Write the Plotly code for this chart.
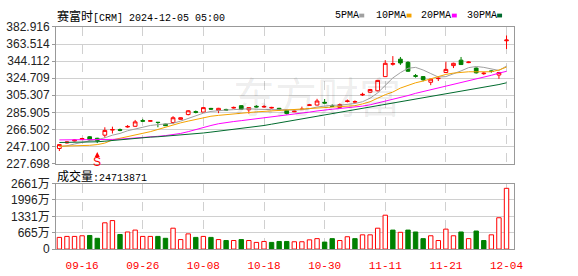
import plotly.graph_objects as go

# ---------------- data ----------------
dates = ["09-11", "09-12", "09-13", "09-16", "09-17", "09-18", "09-19", "09-20", "09-23", "09-24",
         "09-25", "09-26", "09-27", "09-30", "10-01", "10-02", "10-03", "10-04", "10-07", "10-08",
         "10-09", "10-10", "10-11", "10-14", "10-15", "10-16", "10-17", "10-18", "10-21", "10-22",
         "10-23", "10-24", "10-25", "10-28", "10-29", "10-30", "10-31", "11-01", "11-04", "11-05",
         "11-06", "11-07", "11-08", "11-11", "11-12", "11-13", "11-14", "11-15", "11-18", "11-19",
         "11-20", "11-21", "11-22", "11-25", "11-26", "11-27", "11-29", "12-02", "12-03", "12-04"]

open_ = [244.9, 251.2, 253.4, 255.0, 258.2, 256.5, 260.0, 265.8, 266.3, 269.3,
         270.1, 276.6, 275.8, 274.7, 272.6, 274.4, 278.0, 283.4, 286.8, 286.2,
         290.4, 288.0, 289.2, 290.8, 293.5, 288.8, 292.8, 292.0, 290.8, 290.5,
         288.1, 286.6, 289.0, 293.8, 294.2, 297.3, 293.5, 291.6, 298.2, 297.5,
         305.6, 308.8, 310.4, 326.5, 340.5, 346.3, 342.7, 327.6, 326.5, 320.1,
         324.2, 331.2, 339.0, 345.2, 342.4, 336.2, 329.8, 333.0, 328.3, 367.2]
high = [249.5, 252.8, 255.0, 257.0, 259.0, 257.0, 269.0, 269.7, 267.5, 271.5,
        277.3, 278.5, 277.0, 275.0, 273.0, 281.6, 280.2, 288.5, 288.0, 292.0,
        291.0, 291.0, 290.0, 292.5, 294.0, 291.6, 294.0, 294.0, 292.2, 291.0,
        288.5, 288.0, 292.4, 295.5, 301.3, 301.0, 295.0, 296.0, 300.5, 299.5,
        308.2, 312.5, 322.8, 345.2, 349.8, 348.8, 344.0, 329.5, 327.0, 324.0,
        326.0, 343.4, 342.3, 348.8, 343.8, 336.8, 331.5, 333.5, 331.8, 373.2]
low = [242.0, 250.5, 253.0, 254.5, 254.0, 251.0, 257.1, 261.9, 264.5, 268.5,
       269.5, 275.0, 275.5, 269.0, 270.5, 272.6, 277.8, 282.5, 284.8, 285.8,
       288.8, 285.0, 287.8, 290.2, 289.0, 284.5, 291.5, 291.2, 290.2, 288.3,
       283.5, 286.2, 288.8, 293.2, 293.8, 296.0, 292.2, 291.0, 297.2, 296.8,
       304.5, 308.2, 309.8, 326.0, 339.0, 339.8, 331.9, 325.3, 321.2, 316.8,
       321.5, 330.5, 336.2, 339.8, 341.8, 330.0, 328.5, 331.0, 324.0, 357.8]
close = [249.3, 252.2, 254.4, 256.2, 254.6, 253.6, 265.4, 266.4, 265.5, 269.9,
         275.1, 275.9, 276.4, 274.4, 270.8, 279.8, 279.8, 287.7, 285.9, 291.3,
         289.6, 290.5, 288.5, 291.5, 289.5, 291.3, 292.1, 292.6, 291.5, 288.8,
         284.5, 287.3, 289.5, 294.4, 298.8, 296.5, 292.8, 294.8, 298.8, 298.1,
         306.3, 311.9, 322.2, 341.6, 341.3, 342.0, 332.6, 326.9, 322.9, 323.6,
         324.6, 334.7, 341.6, 340.2, 343.0, 330.8, 330.4, 332.4, 331.2, 368.0]

ma5 = [247.0, 248.0, 250.0, 252.0, 253.5, 255.0, 257.0, 260.0, 262.0, 265.0,
       267.0, 269.0, 271.0, 272.0, 273.0, 273.5, 276.0, 279.0, 282.0, 285.0,
       287.0, 288.0, 288.5, 289.0, 289.5, 290.0, 289.5, 289.0, 289.0, 289.0,
       288.5, 288.5, 289.0, 290.0, 292.0, 293.0, 294.0, 294.0, 295.0, 296.0,
       298.0, 302.0, 308.0, 316.0, 325.0, 331.0, 336.0, 337.0, 334.0, 330.0,
       326.0, 326.5, 329.5, 333.0, 336.7, 338.0, 337.0, 335.0, 333.5, 338.5]
ma10 = [247.4, 247.5, 247.6, 248.0, 248.5, 249.3, 251.0, 254.6, 256.5, 258.0,
        260.0, 261.5, 264.0, 266.5, 269.0, 271.9, 274.0, 276.0, 278.0, 280.0,
        281.5, 282.5, 283.4, 284.5, 285.5, 286.0, 286.5, 287.0, 287.5, 288.0,
        288.5, 289.0, 289.5, 290.5, 291.0, 291.6, 292.0, 292.0, 292.4, 293.5,
        295.5, 298.0, 302.0, 306.0, 309.0, 313.5, 316.5, 319.5, 321.5, 324.0,
        327.0, 329.0, 330.5, 331.5, 332.0, 332.0, 332.0, 332.0, 334.0, 337.3]
ma20 = [254.6, 254.6, 254.6, 254.6, 254.7, 254.8, 255.0, 255.2, 255.5, 256.0,
        256.5, 257.0, 258.0, 258.7, 259.5, 260.5, 262.0, 264.0, 266.5, 268.5,
        271.0, 273.0, 274.5, 275.5, 276.5, 277.5, 278.5, 279.8, 281.0, 282.0,
        283.0, 284.0, 285.0, 286.2, 287.5, 288.8, 289.5, 290.3, 291.0, 292.0,
        293.0, 294.5, 296.5, 298.5, 300.2, 302.5, 305.0, 307.5, 309.5, 311.5,
        313.5, 315.8, 317.5, 319.5, 321.5, 324.0, 326.0, 328.0, 330.5, 332.5]
ma30 = [251.7, 251.8, 251.9, 252.0, 252.1, 252.5, 253.2, 254.0, 255.0, 256.2,
        256.8, 257.3, 257.8, 258.2, 258.8, 259.5, 260.2, 261.0, 261.8, 262.5,
        263.5, 264.5, 265.5, 266.5, 267.5, 268.5, 269.8, 271.0, 272.5, 274.0,
        275.5, 276.8, 278.0, 279.5, 281.0, 282.5, 284.0, 285.5, 287.0, 288.5,
        290.0, 291.5, 293.0, 294.5, 296.0, 297.5, 299.0, 300.5, 302.0, 303.5,
        305.0, 306.5, 308.0, 309.5, 311.0, 312.5, 314.0, 315.5, 317.5, 319.5]

# volume in 万 (10k shares)
volume = [474, 514, 514, 540, 552, 437, 1067, 1157, 591, 694,
          771, 514, 514, 514, 437, 848, 386, 617, 474, 514,
          474, 386, 347, 347, 386, 347, 270, 309, 270, 309,
          309, 297, 297, 374, 424, 283, 424, 347, 501, 424,
          578, 578, 848, 1376, 771, 681, 771, 694, 424, 540,
          347, 810, 540, 694, 424, 733, 347, 578, 1273, 2468]
vol_up = [1, 1, 1, 1, 0, 0, 1, 1, 0, 1,
          1, 1, 1, 0, 0, 1, 1, 1, 0, 1,
          0, 1, 0, 1, 0, 1, 1, 1, 0, 0,
          0, 1, 1, 1, 1, 0, 0, 1, 1, 0,
          1, 1, 1, 1, 0, 1, 0, 0, 0, 1,
          1, 1, 1, 0, 1, 0, 0, 1, 1, 1]

price_ticks = [227.698, 247.100, 266.502, 285.905, 305.307, 324.709, 344.112, 363.514, 382.916]
vol_ticks = [0, 665, 1331, 1996, 2661]
vol_tick_text = ["0", "665万", "1331万", "1996万", "2661万"]
date_ticks = ["09-16", "09-26", "10-08", "10-18", "10-30", "11-11", "11-21", "12-04"]

title_name = "赛富时"
title_rest = "[CRM] 2024-12-05 05:00"
vol_label = "成交量"
vol_total = "24713871"
ma_names = ["5PMA", "10PMA", "20PMA", "30PMA"]
signal_idx = 5
signal_text = "S"

# ---------------- style ----------------
W, H = 578, 276
RED = "#ff0000"
GREEN = "#008000"
MA_COLORS = ["#a0a0a0", "#f5a300", "#ff00ff", "#006b2e"]
GRID = "#d0d0d0"
BORDER = "#999999"
CJK = "Noto Sans CJK SC"
MONO = "Liberation Mono"


def px(x):
    return x / W


def py(y):
    return 1 - y / H


XL, XR = 57, 522
fig = go.Figure()

for name, vals, col in zip(ma_names, [ma5, ma10, ma20, ma30], MA_COLORS):
    fig.add_trace(go.Scatter(x=dates, y=vals, mode="lines", name=name,
                             line=dict(color=col, width=1), hoverinfo="skip",
                             xaxis="x", yaxis="y"))

fig.add_trace(go.Candlestick(
    x=dates, open=open_, high=high, low=low, close=close,
    increasing=dict(line=dict(color=RED, width=1), fillcolor="white"),
    decreasing=dict(line=dict(color=GREEN, width=1), fillcolor=GREEN),
    whiskerwidth=0, xaxis="x", yaxis="y", name="K"))

fig.add_trace(go.Bar(
    x=dates, y=volume, width=0.58, xaxis="x2", yaxis="y2",
    marker=dict(color=["white" if u else GREEN for u in vol_up],
                line=dict(color=[RED if u else GREEN for u in vol_up], width=1))))

xcommon = dict(domain=[px(XL), px(XR)], type="category", range=[-0.43, 59.97],
               tickvals=date_ticks, showgrid=True, gridcolor=GRID, griddash="dash",
               gridwidth=1, showline=True, linecolor=BORDER, linewidth=1, mirror=True,
               ticks="", zeroline=False, fixedrange=True)
ycommon = dict(showgrid=True, gridcolor=GRID, gridwidth=1, showline=True,
               linecolor=BORDER, linewidth=1, mirror=True, ticks="outside",
               ticklen=3, tickcolor=BORDER, zeroline=False,
               tickfont=dict(family="Liberation Sans, " + CJK, size=12, color="#222222"))

fig.update_layout(
    width=W, height=H, margin=dict(l=0, r=0, t=0, b=0),
    paper_bgcolor="white", plot_bgcolor="white", showlegend=False,
    xaxis=dict(anchor="y", showticklabels=False, rangeslider=dict(visible=False), **xcommon),
    yaxis=dict(anchor="x", domain=[py(165), py(21)], range=[price_ticks[0], price_ticks[-1]],
               tickvals=price_ticks, ticktext=[f"{v:.3f}" for v in price_ticks], **ycommon),
    xaxis2=dict(anchor="y2", showticklabels=True, ticktext=date_ticks, ticklabelstandoff=6,
                tickfont=dict(family=MONO, size=11, color=RED), **xcommon),
    yaxis2=dict(anchor="x2", domain=[py(255), py(186)], range=[0, vol_ticks[-1]],
                tickvals=vol_ticks, ticktext=vol_tick_text, **ycommon),
)

ann = []
# watermark
ann.append(dict(x=px(322), y=py(92), xref="paper", yref="paper", xanchor="center",
                yanchor="middle", showarrow=False,
                text="东方财富", font=dict(family=CJK, size=42, color="rgba(0,0,0,0.08)")))
# title
ann.append(dict(x=px(56), y=py(9), xref="paper", yref="paper", xanchor="left", yanchor="middle",
                showarrow=False,
                text=f'<span style="font-family:{CJK};font-size:12px">{title_name}</span>{title_rest}',
                font=dict(family=MONO, size=10, color="#000000")))
# volume label
ann.append(dict(x=px(56), y=py(177), xref="paper", yref="paper", xanchor="left", yanchor="middle",
                showarrow=False,
                text=f'<span style="font-family:{CJK};font-size:12px">{vol_label}</span>:{vol_total}',
                font=dict(family=MONO, size=10, color="#000000")))
# MA legend
leg_x = [338, 380, 426, 472]
shapes = []
for name, col, lx in zip(ma_names, MA_COLORS, leg_x):
    ann.append(dict(x=px(lx), y=py(9), xref="paper", yref="paper", xanchor="left",
                    yanchor="middle", showarrow=False, text=name,
                    font=dict(family=MONO, size=10, color="#000000")))
    sx = lx + len(name) * 6 + 3
    shapes.append(dict(type="rect", xref="paper", yref="paper", x0=px(sx), x1=px(sx + 5),
                       y0=py(11), y1=py(7), fillcolor=col, line=dict(width=0)))
# signal marker
ann.append(dict(x=dates[signal_idx], y=low[signal_idx], xref="x", yref="y", yshift=-9,
                showarrow=True, ax=0, ay=10, arrowhead=2, arrowsize=1, arrowwidth=1,
                arrowcolor=RED, standoff=0, startstandoff=0, text=signal_text,
                font=dict(family="Liberation Sans", size=12, color=RED)))

fig.update_layout(annotations=ann, shapes=shapes)
fig.write_html("out.html")
